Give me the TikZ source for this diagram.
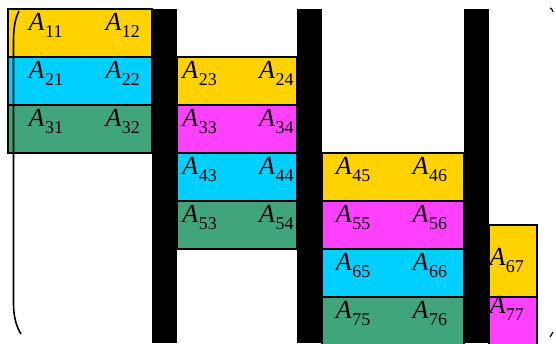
\documentclass[tikz,border=0pt]{standalone}
\usepackage{fontspec}
\setmainfont{Liberation Serif}
\usetikzlibrary{positioning}
\definecolor{blockgold}{HTML}{FFD200}
\definecolor{blockcyan}{HTML}{00D0FF}
\definecolor{blockpink}{HTML}{FF40FF}
\definecolor{blockgreen}{HTML}{40A57A}
\newcommand{\aij}[2]{\textit{A}\kern0.5pt\raisebox{-7pt}{\fontsize{18}{18}\selectfont #1#2}}

\begin{document}
\begin{tikzpicture}[x=1pt,y=-1pt,
    cell/.style={draw=black,line width=1.2pt},
    ent/.style={anchor=base west,inner sep=0pt,font=\fontsize{26}{28}\selectfont},
    bar/.style={fill=black}]
  \useasboundingbox (0,0) rectangle (556,343);
  \clip (0,0) rectangle (556,343);
  % coloured bands
  \foreach \y/\c in {9/blockgold,57/blockcyan,105/blockgreen}
    \filldraw[cell,fill=\c] (8,\y) rectangle (152,\y+48);
  \foreach \y/\c in {57/blockgold,105/blockpink,153/blockcyan,201/blockgreen}
    \filldraw[cell,fill=\c] (177,\y) rectangle (297,\y+48);
  \foreach \y/\c in {153/blockgold,201/blockpink,249/blockcyan,297/blockgreen}
    \filldraw[cell,fill=\c] (322,\y) rectangle (464,\y+48);
  \filldraw[cell,fill=blockgold] (489,225) rectangle (537,297);
  \filldraw[cell,fill=blockpink] (489,297) rectangle (537,350);
  % entries
  \foreach \i/\j in {1/1,1/2,2/1,2/2,3/1,3/2,2/3,2/4,3/3,3/4,4/3,4/4,5/3,5/4,
                     4/5,4/6,5/5,5/6,6/5,6/6,7/5,7/6}
    \node[ent] (a\i\j) at ({28.5+76.8*(\j-1)},{30.5+48*(\i-1)}) {\aij{\i}{\j}};
  \foreach \i/\j in {6/7,7/7}
    \node[ent] (a\i\j) at ({28.5+76.8*(\j-1)},{25.5+48*(\i-1)}) {\aij{\i}{\j}};
  % separators
  \foreach \x in {152,297,464}
    \fill[bar] (\x,9) rectangle (\x+25,343);
  % brackets
  \draw[line width=1.6pt] (19,11) .. controls (14.5,20) and (13.5,30) .. (13.5,42)
    -- (13.5,303) .. controls (13.5,316) and (16,326) .. (21,334);
  \draw[line width=1.2pt] (550,8) .. controls (552,9) .. (553,12);
  \draw[line width=1.2pt] (553,332) .. controls (552,335) .. (550,337);
\end{tikzpicture}
\end{document}
